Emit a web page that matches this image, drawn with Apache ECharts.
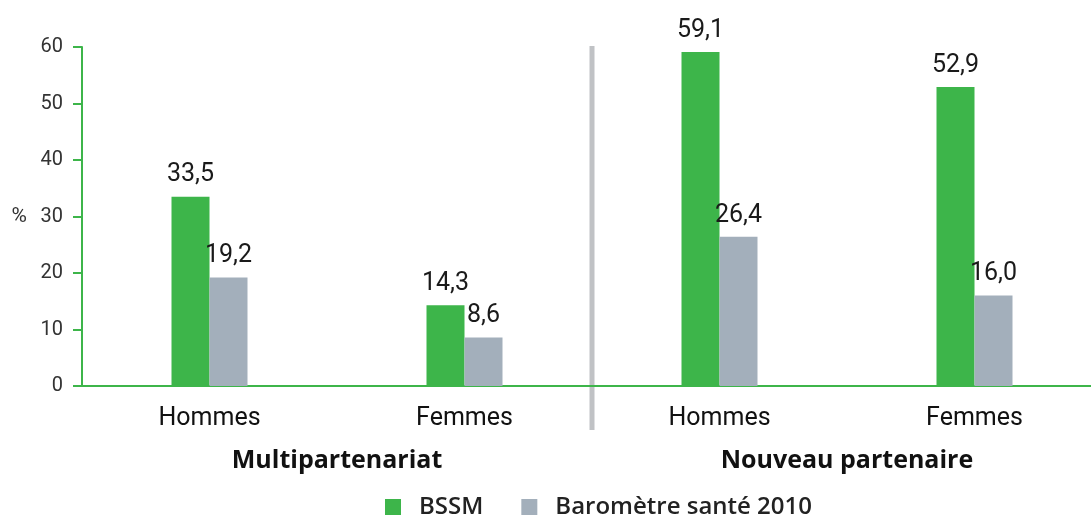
<!DOCTYPE html>
<html><head><meta charset="utf-8">
<script src="https://cdn.jsdelivr.net/npm/echarts@6/dist/echarts.min.js"></script>
<style>html,body{margin:0;padding:0;background:#fff}#c{width:1091px;height:519px}</style>
</head><body><div id="c"></div>
<script>
const categories = ['Hommes', 'Femmes', 'Hommes', 'Femmes'];
const groups = ['Multipartenariat', 'Nouveau partenaire'];
const bssm = [33.5, 14.3, 59.1, 52.9];
const barometre = [19.2, 8.6, 26.4, 16.0];
const seriesNames = ['BSSM', 'Baromètre santé 2010'];

const FONT = 'Roboto, sans-serif';
const FONT2 = '"Open Sans", sans-serif';
const GREEN = '#3db54a';
const GREY = '#a3afbb';
const chart = echarts.init(document.getElementById('c'));
const fmt = p => p.value.toFixed(1).replace('.', ',');
const labelCfg = {show: true, position: 'top', distance: 9, formatter: fmt, color: '#1a1a1a', fontSize: 25, fontFamily: FONT};
chart.setOption({
  animation: false,
  grid: {left: 82, width: 1020, top: 47, bottom: 133, outerBoundsMode: 'none', containLabel: false},
  legend: {
    left: 380, top: 490, icon: 'rect', itemWidth: 16, itemHeight: 16, itemGap: 38,
    textStyle: {fontSize: 24, fontFamily: FONT2, fontWeight: 600, color: '#222', padding: [0, 0, 0, 13], lineHeight: 24},
    data: seriesNames
  },
  xAxis: [{
    type: 'category', data: categories,
    axisLine: {lineStyle: {color: GREEN, width: 2}},
    axisTick: {show: false},
    axisLabel: {fontSize: 25, fontFamily: FONT, color: '#111', margin: 20}
  }, {
    type: 'category', data: groups, position: 'bottom', offset: 45,
    axisLine: {show: false}, axisTick: {show: false},
    axisLabel: {fontSize: 25, fontFamily: FONT2, fontWeight: 'bold', color: '#111', margin: 17}
  }],
  yAxis: {
    type: 'value', min: 0, max: 60, interval: 10, name: '%', nameLocation: 'middle', nameGap: 55, nameRotate: 0,
    nameTextStyle: {fontSize: 21, fontFamily: FONT, color: '#333'},
    axisLine: {show: true, lineStyle: {color: GREEN, width: 2}},
    axisTick: {show: true, length: 9, lineStyle: {color: GREEN, width: 2}},
    splitLine: {show: false},
    axisLabel: {fontSize: 20, fontFamily: FONT, color: '#333', margin: 19}
  },
  series: [
    {name: seriesNames[0], type: 'bar', data: bssm, barWidth: 38, barGap: '0%', itemStyle: {color: GREEN}, label: labelCfg},
    {name: seriesNames[1], type: 'bar', data: barometre, barWidth: 38, barGap: '0%', itemStyle: {color: GREY}, label: labelCfg}
  ]
});
// separator between the two groups, positioned via the axis scale
const x1 = chart.convertToPixel({xAxisIndex: 0}, 1);
const x2 = chart.convertToPixel({xAxisIndex: 0}, 2);
const y60 = chart.convertToPixel({yAxisIndex: 0}, 60);
const xs = (x1 + x2) / 2;
chart.setOption({graphic: [{type: 'rect', shape: {x: xs - 2.5, y: y60 - 1, width: 5, height: 430 - y60 + 1}, style: {fill: '#c0c2c5'}, z: -1}]});
</script></body></html>
